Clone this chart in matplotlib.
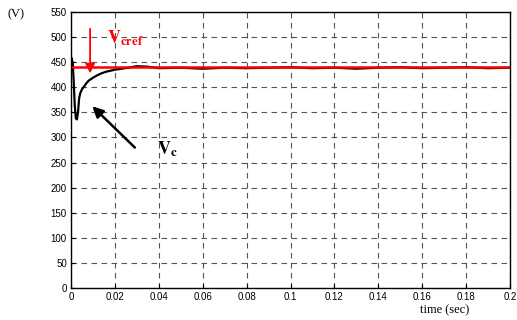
import matplotlib.pyplot as plt
import numpy as np

plt.rcParams['mathtext.fontset'] = 'stix'

# Sample data
t_vc = [0, 0.0003, 0.0008, 0.0012, 0.0017, 0.0022, 0.0027, 0.0032, 0.0037, 0.0042,
        0.005, 0.006, 0.007, 0.008, 0.010, 0.012, 0.014, 0.016, 0.018, 0.020,
        0.023, 0.026, 0.030, 0.035, 0.040, 0.050, 0.060, 0.070, 0.080, 0.090,
        0.100, 0.110, 0.120, 0.130, 0.140, 0.150, 0.160, 0.170, 0.180, 0.190, 0.200]
vc = [455, 458, 448, 415, 365, 338, 336, 350, 378, 388,
      396, 402, 408, 413, 419, 424, 428, 431, 433, 435,
      437, 439, 442, 441, 438, 439, 437, 439, 438, 439,
      440, 438, 439, 437, 439, 440, 438, 439, 440, 438, 439]
vcref = 440

fig = plt.figure(figsize=(5.17, 3.20), dpi=100)
ax = fig.add_axes([71 / 517, 32 / 320, 439 / 517, 276 / 320])

ax.plot(t_vc, vc, color='black', linewidth=1.6)
ax.axhline(vcref, color='red', linewidth=1.8)

ax.set_xlim(0, 0.2)
ax.set_ylim(0, 550)
ax.set_xticks(np.arange(0, 0.21, 0.02))
ax.set_xticklabels(['0', '0.02', '0.04', '0.06', '0.08', '0.1', '0.12', '0.14',
                    '0.16', '0.18', '0.2'])
ax.set_yticks(np.arange(0, 551, 50))
ax.tick_params(direction='in', length=3, labelsize=7, pad=3)
for lbl in ax.get_xticklabels() + ax.get_yticklabels():
    lbl.set_family('Liberation Sans')
ax.grid(True, linestyle=(0, (5, 4)), color='#555555', linewidth=0.8)
for s in ax.spines.values():
    s.set_linewidth(1.0)

# Annotations
ax.annotate('', xy=(0.0087, 422), xytext=(0.0087, 522),
            arrowprops=dict(arrowstyle='-|>', color='red', lw=1.3, mutation_scale=14))
ax.text(0.0165, 488, r'$\mathbf{V_{cref}}$', color='red', fontsize=13)
ax.annotate('', xy=(0.0088, 366), xytext=(0.030, 276),
            arrowprops=dict(arrowstyle='-|>', color='black', lw=1.8, mutation_scale=16))
ax.text(0.039, 266, r'$\mathbf{V_c}$', color='black', fontsize=13)

fig.text(8 / 517, 1 - 17 / 320, '(V)', fontsize=9, family='Liberation Serif')
fig.text(445 / 517, 1 - 313 / 320, 'time (sec)', fontsize=9, family='Liberation Serif',
         ha='center')

fig.savefig('out.png', dpi=100)
